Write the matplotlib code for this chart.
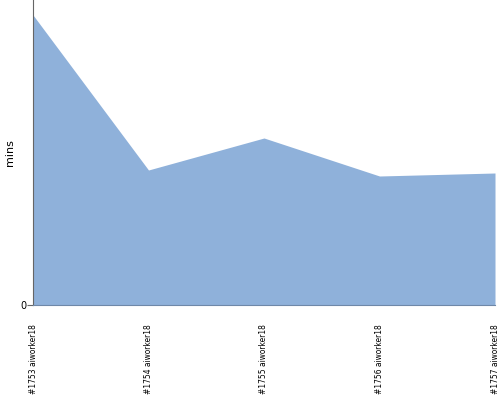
import matplotlib
matplotlib.use('Agg')
import matplotlib.pyplot as plt

builds = ['#1753 aiworker18', '#1754 aiworker18', '#1755 aiworker18',
          '#1756 aiworker18', '#1757 aiworker18']
mins = [290, 135, 167, 129, 132]

fig = plt.figure(figsize=(5, 4), dpi=100)
ax = fig.add_axes([0.066, 0.2375, 0.924, 0.7625])

x = list(range(len(builds)))
ax.fill_between(x, mins, 0, color='#8fb1da', linewidth=0)
ax.set_xlim(0, len(builds) - 1)
ax.set_ylim(0, 305)

ax.set_yticks([0])
ax.set_yticklabels(['0'], fontsize=7)
ax.set_xticks(x)
ax.set_xticklabels(builds, rotation=90, fontsize=6, va='top',
                   family='DejaVu Sans', fontstretch='condensed')
ax.tick_params(axis='x', length=0, pad=14)
ax.tick_params(axis='y', length=4, color='#666666', pad=1)
ax.set_ylabel('mins', fontsize=8)
ax.yaxis.set_label_coords(-0.038, 0.5)

for s in ['top', 'right']:
    ax.spines[s].set_visible(False)
ax.spines['left'].set_color('#666666')
ax.spines['bottom'].set_color('#6f88a8')
ax.spines['left'].set_linewidth(0.8)
ax.spines['bottom'].set_linewidth(0.8)

fig.savefig('out.png', dpi=100)
